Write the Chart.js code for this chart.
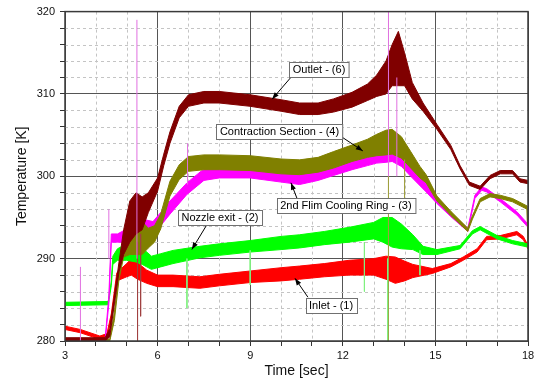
<!DOCTYPE html>
<html><head><meta charset="utf-8">
<script src="https://cdn.jsdelivr.net/npm/chart.js@4.4.1/dist/chart.umd.min.js"></script>
<style>html,body{margin:0;padding:0;background:#fff}canvas{display:block}</style>
</head><body>
<canvas id="c" width="540" height="381"></canvas>
<script>
// ---- data (time [sec], band centre [K], band half-width [K]) ----
const outletT    = [3,4.3,4.45,4.6,4.75,4.9,5.1,5.3,5.5,5.7,6.0,6.2,6.4,6.7,7.0,7.5,8,9,10,10.6,11.2,11.7,12.3,12.8,13.1,13.4,13.6,13.8,14.0,14.25,14.6,15.05,15.5,15.8,16.1,16.45,16.77,17.1,17.5,17.74,18];
const outletMid  = [280.2,280.2,281,285,289,292,294.5,295.5,295.5,296.8,299,302,304.7,307.8,309.2,309.6,309.6,309.2,308.6,308.2,308.2,308.6,309.3,310.2,311,312,313.5,314.3,313,310.4,308.4,306,303.5,301.1,299.1,298.6,299.9,300.5,300.5,299.5,299.3];
const outletHalf = [0.2,0.2,0.5,0.5,0.6,1.5,2.5,2.5,2,1.2,0.8,0.7,0.7,0.7,0.7,0.7,0.7,0.7,0.7,0.7,0.7,0.8,0.9,1.0,1.3,2.0,2.5,3.3,2,1,0.5,0.3,0.25,0.2,0.2,0.2,0.2,0.2,0.2,0.2,0.2];

const contrT    = [3,4.45,4.6,4.75,4.9,5.1,5.3,5.5,5.7,5.9,6.1,6.4,6.7,7.0,7.5,8,9,10,10.6,11.2,11.7,12.3,12.8,13.1,13.4,13.6,13.9,14.2,14.5,14.7,15.05,15.5,16.05,16.2,16.45,16.77,17.1,17.5,17.97,18];
const contrMid  = [280.1,280.1,283,288,291,292.5,293,292.5,292.5,293,294.5,298.5,300.5,301.5,301.7,301.7,301.6,301.2,301.1,301.4,302,302.8,303.4,303.8,304.1,304.2,303.5,302,300.5,299.7,297.3,295.5,293.5,295,297.1,297.7,297.5,297.1,296.2,291.4];
const contrHalf = [0.1,0.1,0.5,0.5,0.8,2,2.5,2,1.2,1,0.9,0.9,0.9,0.9,0.9,0.9,0.9,0.9,0.9,0.9,1.0,1.0,1.1,1.3,1.5,1.5,1.3,1.0,0.7,0.5,0.3,0.25,0.2,0.2,0.2,0.2,0.2,0.2,0.2,0.2];

const ringT    = [3,4.3,4.42,4.5,4.7,5.0,5.2,5.5,5.85,6.1,6.4,6.95,7.5,8,9,10,10.6,11.2,11.7,12.3,12.8,13.1,13.4,13.6,13.9,14.2,14.7,15.05,15.5,16.05,16.28,16.5,16.66,17.1,17.64,18];
const ringMid  = [280.1,280.1,285,292.5,292.5,292.8,293.5,293.3,293.5,294.8,296.2,298.5,300.2,300.5,300.5,300.1,299.8,300.2,300.9,301.6,302.2,302.6,303,303.3,302.5,301,298.7,297,295.3,293.5,297.5,298.5,298.3,297.1,295.5,294];
const ringHalf = [0.1,0.1,0.5,0.5,0.5,0.8,1.5,1.5,1,0.8,0.8,0.7,0.7,0.7,0.7,0.8,0.8,0.7,0.8,0.8,0.9,1.0,1.3,1.5,1.3,1.0,0.6,0.3,0.2,0.2,0.2,0.2,0.2,0.2,0.2,0.2];

const nozzleT    = [3,4.4,4.5,4.55,4.7,5.0,5.3,5.5,5.8,6.1,6.5,7.37,8,9,10,10.6,11.4,12.2,13.0,13.3,13.6,13.9,14.27,14.6,15.05,15.8,16.2,16.45,17.0,17.5,18];
const nozzleMid  = [284.5,284.6,287,289.8,290.5,290.8,290.8,290.3,289.5,289.8,290.2,290.8,291.1,291.5,291.9,292.1,292.5,292.9,293.4,293.5,293.2,292.7,292.0,291,290.8,291.4,293.2,293.7,292.6,292,291.6];
const nozzleHalf = [0.2,0.2,0.3,0.5,0.7,1.0,1.2,1.0,0.8,0.8,0.8,0.7,0.7,0.7,0.8,0.8,0.8,0.9,1.0,1.5,1.8,1.5,0.9,0.5,0.3,0.2,0.2,0.2,0.2,0.2,0.2];

const inletT    = [3,3.5,4.13,4.36,4.5,4.68,5.0,5.15,5.35,5.65,6.0,6.5,7.37,8,9,10,10.6,11.4,12.2,13.0,13.4,13.7,14.0,14.27,14.9,15.5,15.9,16.35,16.66,17.1,17.64,17.85,18];
const inletMid  = [281.6,281.2,280.4,280.7,283,287.8,288.6,289,288.5,287.8,287.3,287.3,287.1,287.4,287.8,288.1,288.3,288.6,288.9,289,288.9,288.6,288.5,288.5,288.5,289.2,290,291,292.5,292.6,293.1,292.5,291.4];
const inletHalf = [0.2,0.2,0.2,0.2,0.3,0.5,0.8,1.0,1.0,0.8,0.7,0.7,0.7,0.7,0.7,0.8,0.8,0.8,0.9,1.0,1.4,1.6,1.2,0.8,0.3,0.2,0.2,0.2,0.2,0.2,0.2,0.2,0.2];

// single-sample spikes: [time, from K, to K]
const ringSpikes   = [[3.5,280,289],[4.42,290,296],[5.33,290,319],[6.97,299,304],[13.48,300,320],[13.75,300,312]];
const outletSpikes = [[5.35,292,280],[5.45,293,283]];
const nozzleSpikes = [[6.95,290,284],[9.0,291,286.8],[12.7,292,286],[13.45,290,280],[14.5,291,288]];
const contrSpikes  = [[13.48,300,280],[14.0,302,296]];

// tick values
const xMajorTicks = [3,6,9,12,15,18];
const xMinorTicks = [4,5,7,8,10,11,13,14,16,17];
const yMajorTicks = [280,290,300,310,320];
const yMinorTicks = [282,284,286,288,292,294,296,298,302,304,306,308,312,314,316,318];

const notes = [
  {text:'Outlet - (6)',                bx:11.23, by:312.99, sx:10.32, sy:312.02, tx:9.71,  ty:309.37},
  {text:'Contraction Section - (4)',   bx:9.95,  by:305.5,  sx:11.97, sy:304.77, tx:12.65, ty:303.08},
  {text:'2nd Flim Cooling Ring - (3)', bx:12.10, by:296.43, sx:10.52, sy:297.28, tx:10.32, ty:299.21},
  {text:'Nozzle exit - (2)',           bx:8.02,  by:295.05, sx:7.60,  sy:294.14, tx:7.11,  ty:291.12},
  {text:'Inlet - (1)',                 bx:11.62, by:284.35, sx:10.87, sy:285.32, tx:10.45, ty:287.61}
];

const FONT = '"Liberation Sans", Arial, sans-serif';

function band(t, mid, half, color, order) {
  const hi = t.map((v,i)=>({x:v, y:mid[i]+half[i]}));
  const lo = t.map((v,i)=>({x:v, y:mid[i]-half[i]}));
  return [
    {data:hi, borderColor:color, backgroundColor:color, borderWidth:1, fill:'+1', order},
    {data:lo, borderColor:color, backgroundColor:color, borderWidth:1, fill:false, order}
  ];
}
function spikes(list, color) {
  return list.map(s=>({data:[{x:s[0],y:s[1]},{x:s[0],y:s[2]}], borderColor:color, borderWidth:1, fill:false, order:0}));
}

const datasets = [
  ...band(outletT, outletMid, outletHalf, '#800000', 1),
  ...band(contrT, contrMid, contrHalf, '#808000', 2),
  ...band(ringT, ringMid, ringHalf, '#ff00ff', 3),
  ...band(nozzleT, nozzleMid, nozzleHalf, '#00ff00', 4),
  ...band(inletT, inletMid, inletHalf, '#ff0000', 5),
  ...spikes(ringSpikes, '#e070e0'),
  ...spikes(outletSpikes, '#a04040'),
  ...spikes(nozzleSpikes, '#80f080'),
  ...spikes(contrSpikes, '#a0a040')
];

const decor = {
  id:'decor',
  beforeDatasetsDraw(chart){
    const {ctx, chartArea:a, scales:{x,y}} = chart;
    ctx.save();
    ctx.strokeStyle = '#c4c4c4'; ctx.lineWidth = 1; ctx.setLineDash([3,3]);
    ctx.beginPath();
    xMinorTicks.forEach(v=>{const p=Math.round(x.getPixelForValue(v))+0.5; ctx.moveTo(p,a.top); ctx.lineTo(p,a.bottom);});
    yMinorTicks.forEach(v=>{const p=Math.round(y.getPixelForValue(v))+0.5; ctx.moveTo(a.left,p); ctx.lineTo(a.right,p);});
    ctx.stroke();
    ctx.restore();
  },
  afterDatasetsDraw(chart){
    const {ctx, chartArea:a, scales:{x,y}} = chart;
    ctx.save();
    ctx.strokeStyle = '#3a3a3a'; ctx.lineWidth = 1.5;
    ctx.strokeRect(a.left, a.top, a.right-a.left, a.bottom-a.top);
    ctx.font = '11px ' + FONT;
    ctx.textBaseline = 'middle'; ctx.textAlign = 'center';
    notes.forEach(n=>{
      const sx=x.getPixelForValue(n.sx), sy=y.getPixelForValue(n.sy);
      const tx=x.getPixelForValue(n.tx), ty=y.getPixelForValue(n.ty);
      ctx.strokeStyle='#000'; ctx.lineWidth=1;
      ctx.beginPath(); ctx.moveTo(sx,sy); ctx.lineTo(tx,ty); ctx.stroke();
      const ang=Math.atan2(ty-sy,tx-sx), L=7, W=2.6;
      ctx.fillStyle='#000'; ctx.beginPath();
      ctx.moveTo(tx,ty);
      ctx.lineTo(tx-L*Math.cos(ang)+W*Math.sin(ang), ty-L*Math.sin(ang)-W*Math.cos(ang));
      ctx.lineTo(tx-L*Math.cos(ang)-W*Math.sin(ang), ty-L*Math.sin(ang)+W*Math.cos(ang));
      ctx.closePath(); ctx.fill();
      const bx=x.getPixelForValue(n.bx), by=y.getPixelForValue(n.by);
      const w=ctx.measureText(n.text).width+7, h=15;
      const l=Math.round(bx-w/2)+0.5, t=Math.round(by-h/2)+0.5;
      ctx.fillStyle='#fff'; ctx.fillRect(l,t,w,h);
      ctx.strokeStyle='#707070'; ctx.strokeRect(l,t,w,h);
      ctx.fillStyle='#000'; ctx.fillText(n.text, bx, by+0.5);
    });
    ctx.restore();
  }
};

new Chart(document.getElementById('c'), {
  type:'line',
  data:{datasets},
  options:{
    responsive:false, animation:false, devicePixelRatio:1,
    layout:{padding:{left:0,right:12,top:10,bottom:0}},
    plugins:{legend:{display:false}, tooltip:{enabled:false}},
    elements:{point:{radius:0}, line:{tension:0}},
    scales:{
      x:{type:'linear', min:3, max:18,
        afterFit(s){s.height=40;},
        afterBuildTicks(s){s.ticks=[...xMajorTicks,...xMinorTicks].sort((a,b)=>a-b).map(v=>({value:v}));},
        ticks:{autoSkip:false, maxRotation:0, padding:3, color:'#111', font:{family:FONT,size:11},
          callback:v=> xMajorTicks.includes(v)? String(v):''},
        grid:{color:c=> c.tick && xMajorTicks.includes(c.tick.value)? '#555':'rgba(0,0,0,0)', tickColor:'#333', tickLength:5, lineWidth:1},
        border:{display:false},
        title:{display:true, text:'Time [sec]', color:'#111', font:{family:FONT,size:14}, padding:{top:0,bottom:1}}
      },
      y:{type:'linear', min:280, max:320,
        afterFit(s){s.width=65;},
        afterBuildTicks(s){s.ticks=[...yMajorTicks,...yMinorTicks].sort((a,b)=>a-b).map(v=>({value:v}));},
        ticks:{autoSkip:false, padding:5, color:'#111', font:{family:FONT,size:11},
          callback:v=> yMajorTicks.includes(v)? String(v):''},
        grid:{color:c=> c.tick && yMajorTicks.includes(c.tick.value)? '#555':'rgba(0,0,0,0)', tickColor:'#333', tickLength:5, lineWidth:1},
        border:{display:false},
        title:{display:true, text:'Temperature [K]', color:'#111', font:{family:FONT,size:14}, padding:{top:14,bottom:0}}
      }
    }
  },
  plugins:[decor]
});
</script>
</body></html>
